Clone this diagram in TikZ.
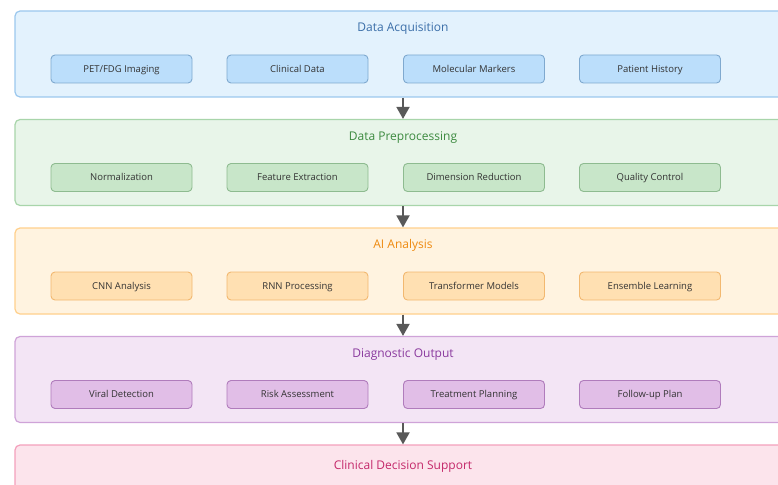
\documentclass[tikz,border=0pt]{standalone}
\usepackage{fontspec}
\setmainfont{Open Sans}
\usetikzlibrary{arrows.meta}
\definecolor{bAfill}{HTML}{E3F2FD}\definecolor{bAdraw}{HTML}{9CC8EE}\definecolor{bAtext}{HTML}{3A6EA8}
\definecolor{sAfill}{HTML}{BBDEFB}\definecolor{sAdraw}{HTML}{7FA9CF}
\definecolor{bBfill}{HTML}{E8F5E9}\definecolor{bBdraw}{HTML}{A8D5AA}\definecolor{bBtext}{HTML}{3C8A3F}
\definecolor{sBfill}{HTML}{C8E6C9}\definecolor{sBdraw}{HTML}{8EBB90}
\definecolor{bCfill}{HTML}{FFF3E0}\definecolor{bCdraw}{HTML}{FFD08C}\definecolor{bCtext}{HTML}{EE8A10}
\definecolor{sCfill}{HTML}{FFE0B2}\definecolor{sCdraw}{HTML}{F2B870}
\definecolor{bDfill}{HTML}{F3E5F5}\definecolor{bDdraw}{HTML}{CFA3D8}\definecolor{bDtext}{HTML}{8A3A9E}
\definecolor{sDfill}{HTML}{E1BEE7}\definecolor{sDdraw}{HTML}{B07CBC}
\definecolor{bEfill}{HTML}{FCE4EC}\definecolor{bEdraw}{HTML}{F4A0BC}\definecolor{bEtext}{HTML}{C4286A}
\definecolor{arrowgray}{HTML}{595959}
\tikzset{
  stage/.style={draw=#1draw, fill=#1fill, line width=1.2pt, rounded corners=5pt,
    minimum width=776pt, minimum height=86pt, inner sep=0pt},
  stagetitle/.style={text=#1text, font=\fontsize{12}{14}\selectfont,
    text height=8.6pt, text depth=2.6pt, inner sep=0pt},
  item/.style={draw=#1draw, fill=#1fill, line width=0.9pt, rounded corners=4pt,
    minimum width=141pt, minimum height=28pt, inner sep=0pt, text=black!80,
    text height=7.8pt, text depth=1.6pt,
    font=\fontsize{9.5}{11}\selectfont},
  flow/.style={draw=arrowgray, line width=1.8pt, -{Triangle[length=12pt,width=13pt]}}
}
\begin{document}
\begin{tikzpicture}[x=1pt,y=-1pt]
\useasboundingbox (0,0) rectangle (778,484);
\clip (0,0) rectangle (778,484);
\fill[white] (0,0) rectangle (778,484);
% stage boxes
\node[stage=bA] (b1) at (403,54) {};
\node[stage=bB] (b2) at (403,162.5) {};
\node[stage=bC] (b3) at (403,271) {};
\node[stage=bD] (b4) at (403,379.5) {};
\node[stage=bE] (b5) at (403,488) {};
% titles
\node[stagetitle=bA] (t1) at (403,28.5) {Data Acquisition};
\node[stagetitle=bB] (t2) at (403,137) {Data Preprocessing};
\node[stagetitle=bC] (t3) at (403,245.5) {AI Analysis};
\node[stagetitle=bD] (t4) at (403,354) {Diagnostic Output};
\node[stagetitle=bE] (t5) at (403,466.5) {Clinical Decision Support};
% items
\node[item=sA] (a1) at (121.5,69) {PET/FDG Imaging};
\node[item=sA] (a2) at (297.5,69) {Clinical Data};
\node[item=sA] (a3) at (474,69) {Molecular Markers};
\node[item=sA] (a4) at (650,69) {Patient History};
\node[item=sB] (p1) at (121.5,177.5) {Normalization};
\node[item=sB] (p2) at (297.5,177.5) {Feature Extraction};
\node[item=sB] (p3) at (474,177.5) {Dimension Reduction};
\node[item=sB] (p4) at (650,177.5) {Quality Control};
\node[item=sC] (c1) at (121.5,286) {CNN Analysis};
\node[item=sC] (c2) at (297.5,286) {RNN Processing};
\node[item=sC] (c3) at (474,286) {Transformer Models};
\node[item=sC] (c4) at (650,286) {Ensemble Learning};
\node[item=sD] (d1) at (121.5,394.5) {Viral Detection};
\node[item=sD] (d2) at (297.5,394.5) {Risk Assessment};
\node[item=sD] (d3) at (474,394.5) {Treatment Planning};
\node[item=sD] (d4) at (650,394.5) {Follow-up Plan};
% arrows
\draw[flow] (b1.south) -- (b2.north);
\draw[flow] (b2.south) -- (b3.north);
\draw[flow] (b3.south) -- (b4.north);
\draw[flow] (b4.south) -- (b5.north);
\end{tikzpicture}
\end{document}
